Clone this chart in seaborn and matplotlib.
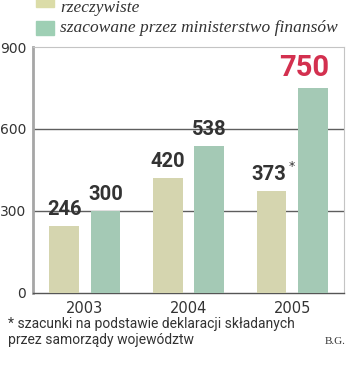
import matplotlib
matplotlib.use("Agg")
import matplotlib.pyplot as plt
from matplotlib.patches import Rectangle
import pandas as pd
import seaborn as sns

years = ["2003", "2004", "2005"]
actual = [246, 420, 373]
estimated = [300, 538, 750]
series_names = ["rzeczywiste", "szacowane przez ministerstwo finansów"]
y_ticks = [0, 300, 600, 900]
footnote = ["* szacunki na podstawie deklaracji składanych",
            "przez samorządy województw"]
credit = "B.G."

YELLOW = "#dbdca8"
GREEN = "#9ecfb4"
RED = "#d3304f"
TEXT = "#333333"

df = pd.DataFrame({
    "rok": years * 2,
    "wartosc": actual + estimated,
    "seria": [series_names[0]] * 3 + [series_names[1]] * 3,
})

W, H = 350, 367
fig = plt.figure(figsize=(W / 100, H / 100), dpi=100)
sns.set_style("white")
plt.rcParams["font.family"] = ["DejaVu Sans"]

def fx(px):
    return px / W

def fy(py):
    return 1 - py / H

ax = fig.add_axes([fx(33), fy(293), fx(344) - fx(33), fy(47) - fy(293)])

sns.barplot(data=df, x="rok", y="wartosc", hue="seria",
            palette=[YELLOW, GREEN], width=0.8, gap=0.28,
            legend=False, ax=ax, zorder=3, linewidth=0)

ax.set_xlim(-0.5, 2.5)
ax.set_ylim(0, 900)
ax.set_yticks(y_ticks)
ax.set_yticklabels([str(t) for t in y_ticks], fontsize=10, color=TEXT)
ax.set_xticks(range(len(years)))
ax.set_xticklabels(years, fontsize=10.5, color=TEXT)
ax.set_xlabel("")
ax.set_ylabel("")
ax.tick_params(axis="y", length=3, width=0.8, color="#888888", pad=2)
ax.tick_params(axis="x", length=0, pad=6)

for t in (300, 600):
    ax.axhline(t, color="#5e5e5e", lw=1.0, zorder=1)

ax.spines["left"].set_color("#a6a6a6")
ax.spines["left"].set_linewidth(2.0)
ax.spines["bottom"].set_color("#555555")
ax.spines["bottom"].set_linewidth(1.0)
ax.spines["top"].set_color("#c4c4c4")
ax.spines["top"].set_linewidth(0.8)
ax.spines["right"].set_color("#c4c4c4")
ax.spines["right"].set_linewidth(0.8)

for i, cont in enumerate(ax.containers):
    labels = ax.bar_label(cont, fmt="%d", padding=5, fontsize=14.5,
                          fontweight="bold", color=TEXT,
                          family="Roboto", zorder=4)
    for lab in labels:
        if lab.get_text() == str(max(estimated)):
            lab.set_color(RED)
            lab.set_fontsize(21)
            lab.xyann = (-6, 4)
        elif lab.get_text() == str(actual[2]):
            lab.xyann = (-2, 5)

# asterisk beside the 2005 actual value
bar05 = ax.containers[0][2]
ax.annotate("*", xy=(bar05.get_x() + bar05.get_width(), actual[2]),
            xytext=(1.5, 18), textcoords="offset points",
            fontsize=9, color=TEXT, ha="left", va="center")

# legend swatches and labels
fig.patches.append(Rectangle((fx(36), fy(7)), fx(18), fy(-7) - fy(7),
                             transform=fig.transFigure, color=YELLOW))
fig.patches.append(Rectangle((fx(36), fy(35)), fx(18), fy(21) - fy(35),
                             transform=fig.transFigure, color=GREEN))
fig.text(fx(60), fy(12), series_names[0], fontsize=12.5, style="italic",
         family="Liberation Serif", color=TEXT, va="baseline")
fig.text(fx(60), fy(32), series_names[1], fontsize=12.5, style="italic",
         family="Liberation Serif", color=TEXT, va="baseline")

fig.text(fx(8), fy(328), footnote[0], fontsize=10, family="Roboto",
         color=TEXT, va="baseline")
fig.text(fx(8), fy(344), footnote[1], fontsize=10, family="Roboto",
         color=TEXT, va="baseline")
fig.text(fx(346), fy(344), credit, fontsize=8, family="Liberation Serif",
         color=TEXT, va="baseline", ha="right")

fig.savefig("out.png", dpi=100)
